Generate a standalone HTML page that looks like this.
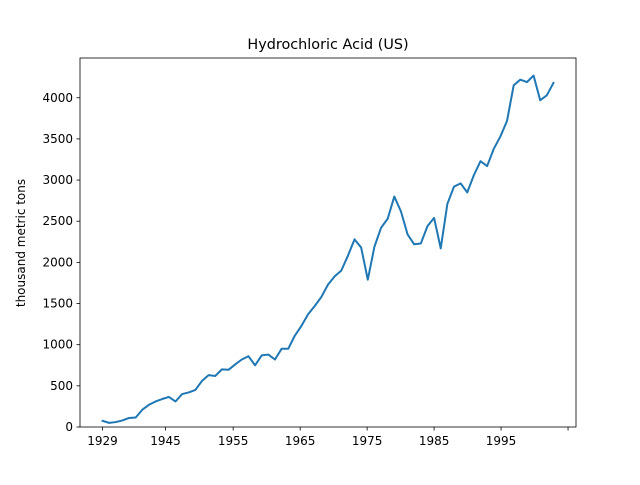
<!DOCTYPE html>
<html><head><meta charset="utf-8"><style>
body{margin:0;background:#fff;font-family:"Liberation Sans","DejaVu Sans",sans-serif}
svg text{font-family:"DejaVu Sans","Liberation Sans",sans-serif}
</style></head><body>
<svg id="chart" width="640" height="480" xmlns="http://www.w3.org/2000/svg">
<rect width="640" height="480" fill="#fff"/>
<text x="328" y="49" font-size="14.4" text-anchor="middle">Hydrochloric Acid (US)</text>
<text transform="translate(25,243) rotate(-90)" font-size="12" text-anchor="middle">thousand metric tons</text>
<g id="plot"></g>
</svg>
<script>
const values=[75,50,60,80,110,115,210,270,310,340,365,310,400,420,450,560,630,620,700,695,760,820,860,750,870,880,820,950,950,1110,1230,1370,1470,1580,1730,1830,1900,2080,2280,2180,1790,2190,2420,2530,2800,2620,2340,2220,2230,2440,2540,2170,2710,2920,2960,2850,3060,3230,3170,3380,3530,3720,4150,4220,4190,4270,3970,4030,4180];
const xTickPos=[0,9.5,19.7,29.8,39.9,50,60.1,70.2];
const xTickLabels=["1929","1945","1955","1965","1975","1985","1995",""];
const yTicks=[0,500,1000,1500,2000,2500,3000,3500,4000];

const L=80,R=576,T=58,B=427;
const n=values.length;
const xmin=-0.05*(n-1),xmax=(n-1)*1.05;
const ymax=4483;
const xs=i=>L+(i-xmin)/(xmax-xmin)*(R-L);
const ys=v=>B-v/ymax*(B-T);
const NS="http://www.w3.org/2000/svg";
const g=document.getElementById('plot');
function mk(tag,attrs){const e=document.createElementNS(NS,tag);for(const k in attrs)e.setAttribute(k,attrs[k]);g.appendChild(e);return e;}

yTicks.forEach(v=>{
  const y=ys(v);
  const t=mk('line',{x1:L-3.5,x2:L,y1:y,y2:y,stroke:'#000','stroke-width':0.8});
  
  
  const lb=mk('text',{x:L-7,y:y+4,'font-size':12,'text-anchor':'end'});
  lb.textContent=v;
  
  
});
xTickPos.forEach((p,i)=>{
  const x=xs(p);
  const t=mk('line',{x1:x,x2:x,y1:B,y2:B+3.5,stroke:'#000','stroke-width':0.8});
  
  
  const lb=mk('text',{x:x,y:B+18,'font-size':12,'text-anchor':'middle'});
  lb.textContent=xTickLabels[i];
  
  
});
const pts=values.map((v,i)=>xs(i).toFixed(2)+','+ys(v).toFixed(2)).join(' ');
const line=mk('polyline',{points:pts,fill:'none',stroke:'#1f77b4','stroke-width':2,'stroke-linejoin':'round','stroke-linecap':'square'});


const fr=mk('rect',{x:L,y:T,width:R-L,height:B-T,fill:'none',stroke:'#000','stroke-width':0.8});


</script>
</body></html>
